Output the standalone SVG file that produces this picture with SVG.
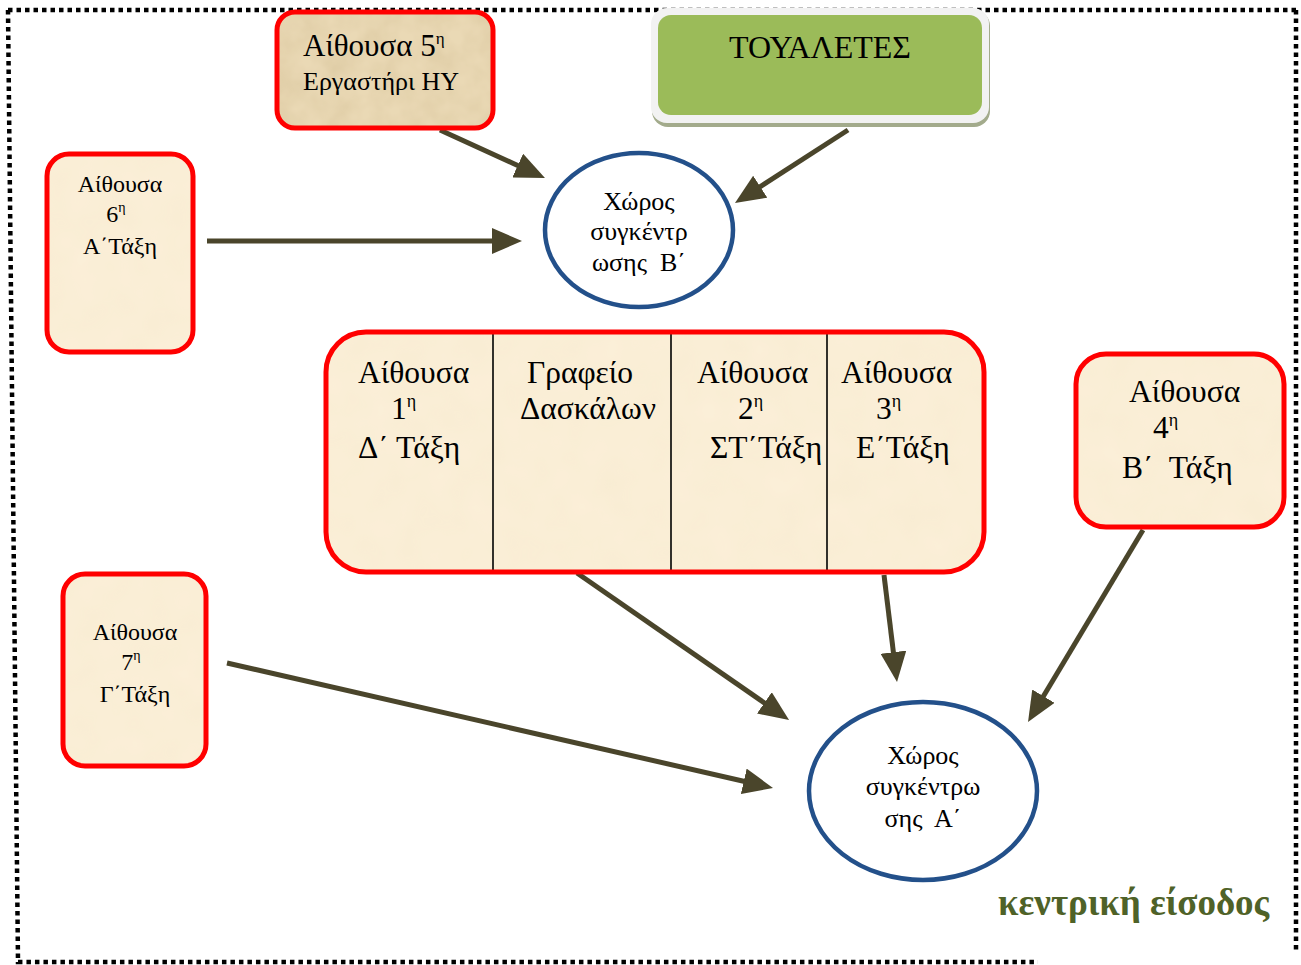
<svg xmlns="http://www.w3.org/2000/svg" width="1301" height="965" viewBox="0 0 1301 965">
<style>
.t{font-family:"Liberation Serif","Times New Roman",serif;fill:#000}
.room{stroke:#ff0000;stroke-width:5}
.lite{fill:#fbefd8}
.circ{fill:#fff;stroke:#23508a;stroke-width:4.5}
.arr{stroke:#4a452b;stroke-width:5;fill:none;marker-end:url(#ah)}
.border{fill:none;stroke:#000;stroke-width:4.5;stroke-dasharray:4.5 4}
.div{stroke:#000;stroke-width:1.6}
</style>
<defs>
<marker id="ah" viewBox="0 0 30 26" refX="10" refY="13" markerWidth="30" markerHeight="26" markerUnits="userSpaceOnUse" orient="auto">
<path d="M0,0 L30,13 L0,26 z" fill="#4a452b"/>
</marker>
<filter id="parch" x="0" y="0" width="100%" height="100%">
<feTurbulence type="fractalNoise" baseFrequency="0.04" numOctaves="3" seed="4" result="n"/>
<feColorMatrix in="n" type="matrix" values="0 0 0 0 0.55  0 0 0 0 0.42  0 0 0 0 0.2  0 0 0 0.45 -0.12" result="c"/>
<feComposite in="c" in2="SourceGraphic" operator="in" result="m"/>
<feMerge><feMergeNode in="SourceGraphic"/><feMergeNode in="m"/></feMerge>
</filter>
<filter id="parch2" x="0" y="0" width="100%" height="100%">
<feTurbulence type="fractalNoise" baseFrequency="0.03" numOctaves="2" seed="7" result="n"/>
<feColorMatrix in="n" type="matrix" values="0 0 0 0 0.85  0 0 0 0 0.75  0 0 0 0 0.5  0 0 0 0.25 -0.05" result="c"/>
<feComposite in="c" in2="SourceGraphic" operator="in" result="m"/>
<feMerge><feMergeNode in="SourceGraphic"/><feMergeNode in="m"/></feMerge>
</filter>
</defs>

<g id="border">
<path class="border" d="M8,10 L1296,10 M1296,10 L1296,951 M8,10 L18,962 L1038,962"/>
</g>

<g id="connectors">
<path class="arr" d="M440,130 L526.8,169.7"/>
<path class="arr" d="M848,130 L751.8,192.1"/>
<path class="arr" d="M207,241 L502,241"/>
<path class="arr" d="M577,573 L772.6,708.6"/>
<path class="arr" d="M884,575 L894.6,662.1"/>
<path class="arr" d="M1143,530 L1038.3,704.8"/>
<path class="arr" d="M227,663 L753.5,783.5"/>
</g>

<g id="room5">
<rect x="277" y="12" width="216" height="116" rx="18" fill="#ead9b5" filter="url(#parch)"/>
<rect class="room" x="277" y="12" width="216" height="116" rx="18" fill="none"/>
<text class="t" x="303" y="56" font-size="31">Αίθουσα 5<tspan font-size="17" dy="-12">η</tspan></text>
<text class="t" x="303" y="90" font-size="26">Εργαστήρι ΗΥ</text>
</g>

<g id="toilets">
<rect x="652" y="10" width="338" height="117" rx="16" fill="#a3ab8c"/>
<rect x="651" y="8" width="338" height="115" rx="16" fill="#f2f2f2"/>
<rect x="658" y="15" width="324" height="100" rx="13" fill="#9bbb59"/>
<text class="t" x="820" y="58" font-size="32" text-anchor="middle">ΤΟΥΑΛΕΤΕΣ</text>
</g>

<g id="gatherB">
<ellipse class="circ" cx="639" cy="230" rx="94" ry="77"/>
<text class="t" font-size="26" text-anchor="middle"><tspan x="639" y="210">Χώρος</tspan><tspan x="639" y="240">συγκέντρ</tspan><tspan x="639" y="271">ωσης&#160; Β΄</tspan></text>
</g>

<g id="room6">
<rect x="47" y="154" width="146" height="198" rx="22" class="lite" filter="url(#parch2)"/>
<rect class="room" x="47" y="154" width="146" height="198" rx="22" fill="none"/>
<text class="t" font-size="24" text-anchor="middle"><tspan x="120" y="192">Αίθουσα</tspan><tspan x="116" y="222">6<tspan font-size="14" dy="-10">η</tspan></tspan><tspan x="120" y="254">Α΄Τάξη</tspan></text>
</g>

<g id="mainblock">
<rect x="326" y="332" width="658" height="240" rx="40" class="lite" filter="url(#parch2)"/>
<line class="div" x1="493" y1="332" x2="493" y2="572"/>
<line class="div" x1="671" y1="332" x2="671" y2="572"/>
<line class="div" x1="827" y1="332" x2="827" y2="572"/>
<rect class="room" x="326" y="332" width="658" height="240" rx="40" fill="none"/>
<text class="t" font-size="31.5"><tspan x="358" y="383">Αίθουσα</tspan><tspan x="391" y="419">1<tspan font-size="18" dy="-12">η</tspan></tspan><tspan x="358" y="458">Δ΄ Τάξη</tspan></text>
<text class="t" font-size="31.5"><tspan x="527" y="383">Γραφείο</tspan><tspan x="520" y="419">Δασκάλων</tspan></text>
<text class="t" font-size="31.5"><tspan x="697" y="383">Αίθουσα</tspan><tspan x="738" y="419">2<tspan font-size="18" dy="-12">η</tspan></tspan><tspan x="710" y="458">ΣΤ΄Τάξη</tspan></text>
<text class="t" font-size="31.5"><tspan x="841" y="383">Αίθουσα</tspan><tspan x="876" y="419">3<tspan font-size="18" dy="-12">η</tspan></tspan><tspan x="856" y="458">Ε΄Τάξη</tspan></text>
</g>

<g id="room4">
<rect x="1076" y="354" width="208" height="173" rx="30" class="lite" filter="url(#parch2)"/>
<rect class="room" x="1076" y="354" width="208" height="173" rx="30" fill="none"/>
<text class="t" font-size="31.5"><tspan x="1129" y="402">Αίθουσα</tspan><tspan x="1153" y="438">4<tspan font-size="18" dy="-12">η</tspan></tspan><tspan x="1122" y="478">Β΄&#160; Τάξη</tspan></text>
</g>

<g id="room7">
<rect x="63" y="574" width="143" height="192" rx="22" class="lite" filter="url(#parch2)"/>
<rect class="room" x="63" y="574" width="143" height="192" rx="22" fill="none"/>
<text class="t" font-size="24" text-anchor="middle"><tspan x="135" y="640">Αίθουσα</tspan><tspan x="131" y="670">7<tspan font-size="14" dy="-10">η</tspan></tspan><tspan x="135" y="702">Γ΄Τάξη</tspan></text>
</g>

<g id="gatherA">
<ellipse class="circ" cx="923" cy="791" rx="114" ry="89"/>
<text class="t" font-size="26" text-anchor="middle"><tspan x="923" y="764">Χώρος</tspan><tspan x="923" y="795">συγκέντρω</tspan><tspan x="923" y="827">σης&#160; Α΄</tspan></text>
</g>

<g id="entrance">
<text class="t" x="998" y="915" font-size="37" font-weight="bold" style="fill:#4f6228">κεντρική είσοδος</text>
</g>
</svg>
